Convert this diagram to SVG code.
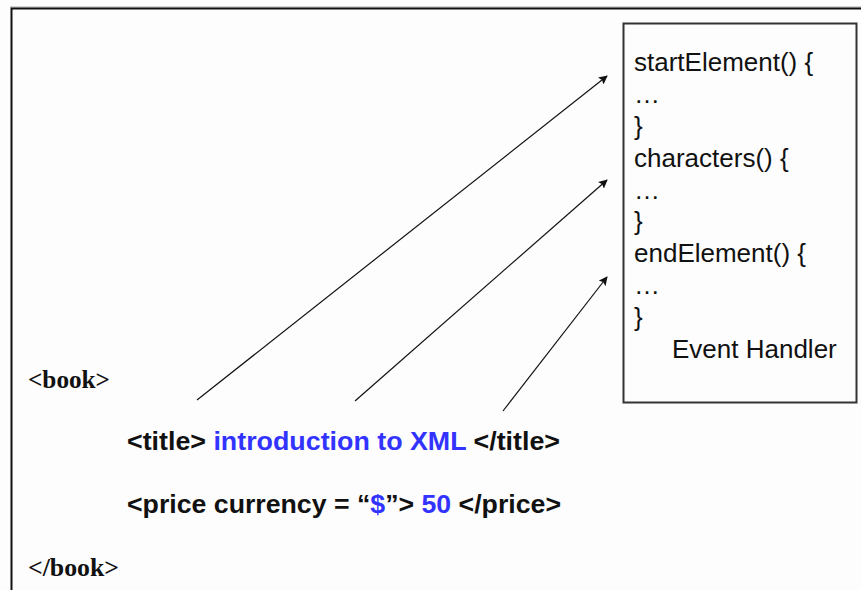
<svg xmlns="http://www.w3.org/2000/svg" width="861" height="590" viewBox="0 0 861 590">
<defs>
<style>
.code{font-family:"Liberation Sans",Arial,sans-serif;font-size:26px;fill:#111}
.xml{font-family:"Liberation Sans",Arial,sans-serif;font-weight:bold;font-size:25px;fill:#111}
.xmls{font-family:"Liberation Serif","Times New Roman",serif;font-weight:bold;font-size:26px;fill:#111}
.blue{fill:#3333ff}
.conn line{stroke:#111;stroke-width:1.2;fill:none;marker-end:url(#ah)}
</style>
<marker id="ah" viewBox="0 0 10 10" refX="9" refY="5" markerWidth="9" markerHeight="9" markerUnits="userSpaceOnUse" orient="auto">
<path d="M0,0 L10,5 L0,10 L2,5 Z" fill="#111"/>
</marker>
</defs>
<rect x="0" y="0" width="861" height="590" fill="#fdfdfd"/>
<line x1="10" y1="7" x2="861" y2="7" stroke="#aaa" stroke-width="1"/>
<rect x="11.5" y="8.5" width="900" height="700" fill="none" stroke="#111" stroke-width="2"/>
<g id="event-handler">
<rect x="623.5" y="23.5" width="233" height="379" fill="#fdfdfd" stroke="#333" stroke-width="2"/>
<text class="code" x="634" y="71">startElement() {</text>
<text class="code" x="634" y="103">…</text>
<text class="code" x="634" y="135">}</text>
<text class="code" x="634" y="167">characters() {</text>
<text class="code" x="634" y="199">…</text>
<text class="code" x="634" y="230">}</text>
<text class="code" x="634" y="262">endElement() {</text>
<text class="code" x="634" y="294">…</text>
<text class="code" x="634" y="326">}</text>
<text class="code" x="672" y="358">Event Handler</text>
</g>
<g id="xml-book-open"><text class="xmls" x="28" y="388" textLength="82" lengthAdjust="spacingAndGlyphs">&lt;book&gt;</text></g>
<g id="xml-title"><text class="xml" x="127" y="450" textLength="433" lengthAdjust="spacingAndGlyphs">&lt;title&gt; <tspan class="blue">introduction to XML</tspan> &lt;/title&gt;</text></g>
<g id="xml-price"><text class="xml" x="127" y="513" textLength="434" lengthAdjust="spacingAndGlyphs">&lt;price currency = “<tspan class="blue">$</tspan>”&gt; <tspan class="blue">50</tspan> &lt;/price&gt;</text></g>
<g id="xml-book-close"><text class="xmls" x="28" y="576" textLength="91" lengthAdjust="spacingAndGlyphs">&lt;/book&gt;</text></g>
<g id="connectors" class="conn">
<line x1="197" y1="400" x2="607" y2="76"/>
<line x1="355" y1="401" x2="607" y2="180"/>
<line x1="503" y1="411" x2="607" y2="277"/>
</g>
</svg>
